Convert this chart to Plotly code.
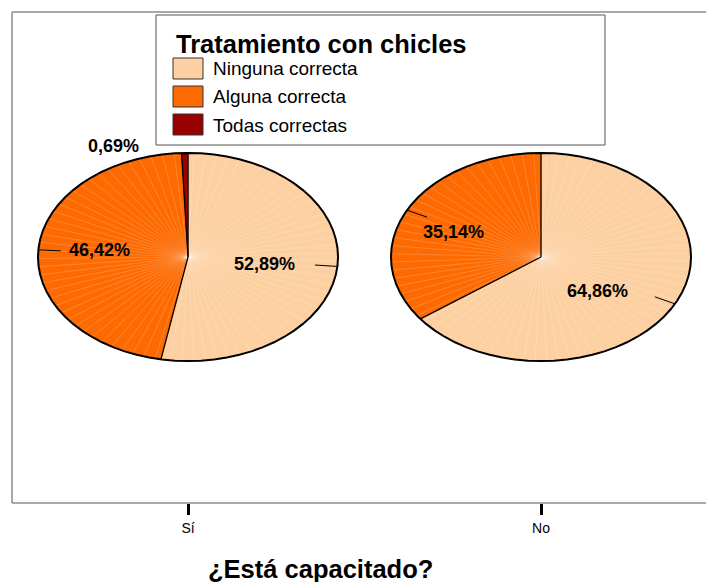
import numpy as np
import plotly.graph_objects as go

# ---- data -------------------------------------------------------------
groups = ["Sí", "No"]
categories = ["Ninguna correcta", "Alguna correcta", "Todas correctas"]
pct_si = [52.89, 46.42, 0.69]
pct_no = [64.86, 35.14, 0.0]
values = {"Sí": pct_si, "No": pct_no}

legend_title = "Tratamiento con chicles"
x_title = "¿Está capacitado?"

# ---- style ------------------------------------------------------------
colors = ["#FDD0A2", "#FD6A02", "#990000"]
FONT = "Liberation Sans, Arial, sans-serif"
W, H = 706, 582
M_L, M_R, M_T, M_B = 12, 0, 12, 79
PW, PH = W - M_L - M_R, H - M_T - M_B
X_RANGE = [0.5014, 2.4674]
Y_RANGE = [0.0, 1.0]
CY = 0.501          # pie centre (y, data units)
RX = 0.425          # horizontal half-axis (x data units)
RY = 0.212          # vertical half-axis (y data units)
LEADER = (0.85, 1.0)
LABEL_R = 0.55
SEAM_STEP = 4.5     # angular spacing of the faint seams inside each slice
# (xshift, yshift) nudges in px per (group, category index); outside=True puts it past the rim
label_nudge = {
    ("Sí", 0): (-6, -2, False),
    ("Sí", 1): (-6, 3, False),
    ("Sí", 2): (-71, -3, True),
    ("No", 0): (-17, -8, False),
    ("No", 1): (-14, -1, False),
}


def px_to_paper(px, py):
    return (px - M_L) / PW, (H - M_B - py) / PH


def ell(cx, theta, r=1.0):
    """Point on the elliptical pie; theta in degrees clockwise from 12 o'clock."""
    t = np.radians(theta)
    return cx + r * RX * np.sin(t), CY + r * RY * np.cos(t)


def fmt(v):
    return f"{v:.2f}".replace(".", ",") + "%"


fig = go.Figure()
annotations = []

for gi, g in enumerate(groups):
    cx = gi + 1
    vals = values[g]
    total = sum(vals)
    start = 0.0
    seams_x, seams_y = [], []
    for ci, v in enumerate(vals):
        if v <= 0:
            continue
        span = 360.0 * v / total
        n = max(2, int(np.ceil(span / 5.0)) + 1)
        th = np.linspace(start, start + span, n)
        xs, ys = ell(cx, th)
        fig.add_trace(go.Scatter(
            x=np.concatenate([[cx], xs, [cx]]),
            y=np.concatenate([[CY], ys, [CY]]),
            mode="lines", fill="toself", fillcolor=colors[ci],
            line=dict(color=colors[ci], width=0.5),
            hoverinfo="skip", showlegend=False,
        ))
        # faint radial seams across the slice
        for a in np.arange(start + SEAM_STEP / 2, start + span, SEAM_STEP):
            ex, ey = ell(cx, a)
            seams_x += [cx, ex, None]
            seams_y += [CY, ey, None]
        start += span
    fig.add_trace(go.Scatter(
        x=seams_x, y=seams_y, mode="lines",
        line=dict(color="rgba(255,255,255,0.3)", width=0.6),
        hoverinfo="skip", showlegend=False,
    ))

    # slice boundaries, rim, leader lines and labels
    start = 0.0
    for ci, v in enumerate(vals):
        if v <= 0:
            continue
        span = 360.0 * v / total
        bx, by = ell(cx, start)
        fig.add_trace(go.Scatter(
            x=[cx, bx], y=[CY, by], mode="lines",
            line=dict(color="black", width=1.3),
            hoverinfo="skip", showlegend=False,
        ))
        mid = start + span / 2
        dx, dy, outside = label_nudge[(g, ci)]
        if outside:
            lx, ly = ell(cx, mid, 1.1)
        else:
            lx, ly = ell(cx, mid, LABEL_R)
            a, b = ell(cx, mid, LEADER[0]), ell(cx, mid, LEADER[1])
            fig.add_trace(go.Scatter(
                x=[a[0], b[0]], y=[a[1], b[1]], mode="lines",
                line=dict(color="black", width=1),
                hoverinfo="skip", showlegend=False,
            ))
        annotations.append(dict(
            x=lx, y=ly, xref="x", yref="y", text=f"<b>{fmt(v)}</b>",
            showarrow=False, xshift=dx, yshift=dy,
            font=dict(family=FONT, size=18, color="black"),
        ))
        start += span
    th = np.linspace(0, 360, 73)
    xs, ys = ell(cx, th)
    fig.add_trace(go.Scatter(
        x=xs, y=ys, mode="lines", line=dict(color="black", width=2),
        hoverinfo="skip", showlegend=False,
    ))

# ---- legend box drawn as shapes -----------------------------------------
shapes = []
x0, y0 = px_to_paper(156, 145)
x1, y1 = px_to_paper(605, 15)
shapes.append(dict(type="rect", xref="paper", yref="paper", x0=x0, y0=y0, x1=x1, y1=y1,
                   line=dict(color="#555555", width=1), fillcolor="white", layer="above"))
tx, ty = px_to_paper(174, 44)
annotations.append(dict(x=tx, y=ty, xref="paper", yref="paper", xanchor="left", yanchor="middle",
                        text=f"<b>{legend_title}</b>", showarrow=False,
                        font=dict(family=FONT, size=25.5, color="black")))
for ci, cat in enumerate(categories):
    top = 58 + ci * 28
    kx0, ky0 = px_to_paper(173, top + 21)
    kx1, ky1 = px_to_paper(203, top)
    shapes.append(dict(type="rect", xref="paper", yref="paper", x0=kx0, y0=ky0, x1=kx1, y1=ky1,
                       line=dict(color="#333333", width=1), fillcolor=colors[ci], layer="above"))
    lx, ly = px_to_paper(211, top + 11)
    annotations.append(dict(x=lx, y=ly, xref="paper", yref="paper", xanchor="left", yanchor="middle",
                            text=cat, showarrow=False,
                            font=dict(family=FONT, size=19, color="black")))

# ---- panel border (left, top, bottom) ----------------------------------
border = dict(color="#8c8c8c", width=1.5)
shapes += [
    dict(type="line", xref="paper", yref="paper", x0=0, y0=0, x1=0, y1=1, line=border),
    dict(type="line", xref="paper", yref="paper", x0=0, y0=1, x1=1, y1=1, line=border),
    dict(type="line", xref="paper", yref="paper", x0=0, y0=0, x1=1, y1=0, line=border),
]

ax, ay = px_to_paper(320, 569)
annotations.append(dict(x=ax, y=ay, xref="paper", yref="paper", xanchor="center", yanchor="middle",
                        text=f"<b>{x_title}</b>", showarrow=False,
                        font=dict(family=FONT, size=25.5, color="black")))

fig.update_layout(
    width=W, height=H, autosize=False,
    margin=dict(l=M_L, r=M_R, t=M_T, b=M_B, pad=0),
    paper_bgcolor="white", plot_bgcolor="white",
    xaxis=dict(range=X_RANGE, tickvals=[1, 2], ticktext=groups,
               ticks="outside", ticklen=11, tickwidth=3, tickcolor="black",
               ticklabelstandoff=1,
               showgrid=False, zeroline=False, showline=False,
               tickfont=dict(family=FONT, size=14, color="black")),
    yaxis=dict(range=Y_RANGE, showticklabels=False, ticks="",
               showgrid=False, zeroline=False, showline=False),
    shapes=shapes, annotations=annotations,
)

fig.write_html("out.html")
